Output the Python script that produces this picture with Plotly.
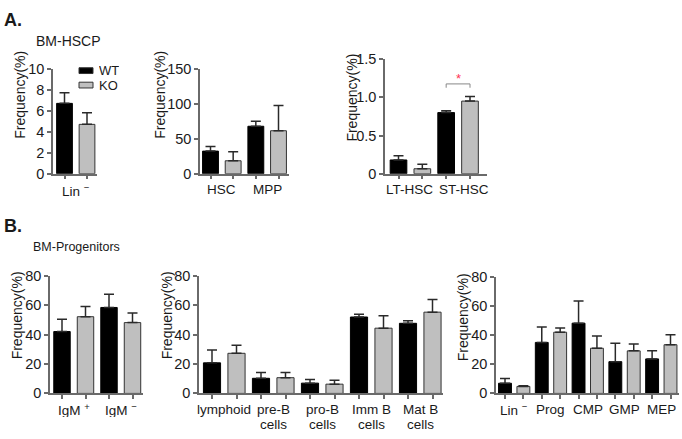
import plotly.graph_objects as go

W, H = 682, 439
FONT = "Arial, Liberation Sans, Helvetica, sans-serif"

# ---------------- data ----------------
a1_labels = ["Lin <sup>−</sup>"]
a1_wt = [6.7]
a1_wt_err = [1.0]
a1_ko = [4.7]
a1_ko_err = [1.1]

a2_labels = ["HSC", "MPP"]
a2_wt = [32.3, 67.8]
a2_wt_err = [6.5, 7.0]
a2_ko = [18.5, 61.4]
a2_ko_err = [12.9, 36.0]

a3_labels = ["LT-HSC", "ST-HSC"]
a3_wt = [0.18, 0.80]
a3_wt_err = [0.055, 0.025]
a3_ko = [0.065, 0.95]
a3_ko_err = [0.06, 0.06]
a3_sig_group = 1  # ST-HSC, p<0.05

b1_labels = ["IgM <sup>+</sup>", "IgM <sup>−</sup>"]
b1_wt = [42.1, 58.5]
b1_wt_err = [8.3, 9.0]
b1_ko = [52.2, 48.2]
b1_ko_err = [7.0, 6.6]

b2_labels = ["lymphoid", "pre-B<br>cells", "pro-B<br>cells", "Imm B<br>cells", "Mat B<br>cells"]
b2_wt = [20.8, 10.3, 7.0, 52.0, 47.7]
b2_wt_err = [8.7, 3.9, 2.4, 1.8, 1.7]
b2_ko = [27.3, 10.7, 6.3, 44.4, 55.3]
b2_ko_err = [5.5, 3.5, 2.7, 8.5, 8.7]

b3_labels = ["Lin <sup>−</sup>", "Prog", "CMP", "GMP", "MEP"]
b3_wt = [7.0, 35.0, 48.2, 21.8, 23.7]
b3_wt_err = [3.3, 10.5, 15.3, 12.7, 5.5]
b3_ko = [4.8, 42.0, 31.0, 29.2, 33.4]
b3_ko_err = [0.5, 2.9, 8.4, 4.7, 6.8]

# ---------------- layout of panels (pixels) ----------------
panels = [
    dict(labels=a1_labels, wt=a1_wt, wte=a1_wt_err, ko=a1_ko, koe=a1_ko_err,
         ax=(53, 97), c=(64.5, 87), yp=(63, 172), yr=[0, 10], yt=[0, 2, 4, 6, 8, 10],
         ytitle=(20, 90), lshift=17),
    dict(labels=a2_labels, wt=a2_wt, wte=a2_wt_err, ko=a2_ko, koe=a2_ko_err,
         ax=(200, 289), c=(210.5, 278.5), yp=(63, 172), yr=[0, 150], yt=[0, 50, 100, 150],
         ytitle=(160, 90), lshift=16),
    dict(labels=a3_labels, wt=a3_wt, wte=a3_wt_err, ko=a3_ko, koe=a3_ko_err,
         ax=(385, 487), c=(398.5, 470), yp=(53, 172), yr=[0, 1.5], yt=[0, 0.5, 1.0, 1.5],
         ytt=["0", "0.5", "1.0", "1.5"], ytitle=(352, 93), lshift=16, lx=[-1, 6]),
    dict(labels=b1_labels, wt=b1_wt, wte=b1_wt_err, ko=b1_ko, koe=b1_ko_err,
         ax=(50, 143), c=(62, 132.5), yp=(278, 400), yr=[0, 80], yt=[0, 20, 40, 60, 80],
         ytitle=(17, 319), lshift=16),
    dict(labels=b2_labels, wt=b2_wt, wte=b2_wt_err, ko=b2_ko, koe=b2_ko_err,
         ax=(199, 443), c=(212, 432.5), yp=(278, 400), yr=[0, 80], yt=[0, 20, 40, 60, 80],
         ytitle=(167, 319), lshift=16),
    dict(labels=b3_labels, wt=b3_wt, wte=b3_wt_err, ko=b3_ko, koe=b3_ko_err,
         ax=(496, 679), c=(505, 670.5), yp=(279, 400), yr=[0, 80], yt=[0, 20, 40, 60, 80],
         ytitle=(463, 321), lshift=16),
]

WT_COLOR = "#000000"
KO_COLOR = "#bfbfbf"
AXIS_COLOR = "#6a6a6a"
TEXT_COLOR = "#1a1a1a"
ERR_COLOR = "#2a2a2a"

fig = go.Figure()
annotations = []
shapes = []
layout = {}

for k, p in enumerate(panels, start=1):
    n_groups = len(p["labels"])
    n_bars = 2 * n_groups
    xwt = [2 * i for i in range(n_groups)]
    xko = [2 * i + 1 for i in range(n_groups)]
    xs = f"x{k}" if k > 1 else "x"
    ys = f"y{k}" if k > 1 else "y"

    fig.add_trace(go.Bar(
        x=xwt, y=p["wt"], width=0.7, xaxis=xs, yaxis=ys, name="WT", showlegend=False,
        marker=dict(color=WT_COLOR, line=dict(color="#000000", width=1)),
        error_y=dict(type="data", symmetric=False, array=p["wte"], arrayminus=[0] * n_groups,
                     color=ERR_COLOR, thickness=1.5, width=5),
    ))
    fig.add_trace(go.Bar(
        x=xko, y=p["ko"], width=0.7, xaxis=xs, yaxis=ys, name="KO", showlegend=False,
        marker=dict(color=KO_COLOR, line=dict(color="#333333", width=1)),
        error_y=dict(type="data", symmetric=False, array=p["koe"], arrayminus=[0] * n_groups,
                     color=ERR_COLOR, thickness=1.5, width=5),
    ))

    c0, c1 = p["c"]
    pitch = (c1 - c0) / (n_bars - 1)
    xl, xr = p["ax"]
    xrange = [(xl - c0) / pitch, (xr - c0) / pitch]
    ytop, ybot = p["yp"]

    xkey = "xaxis" if k == 1 else f"xaxis{k}"
    ykey = "yaxis" if k == 1 else f"yaxis{k}"
    layout[xkey] = dict(
        domain=[xl / W, xr / W], range=xrange, anchor=ys,
        showline=True, linecolor=AXIS_COLOR, linewidth=1.5,
        ticks="outside", ticklen=4, tickwidth=1.5, tickcolor=AXIS_COLOR,
        tickvals=list(range(n_bars)), showticklabels=False,
        showgrid=False, zeroline=False,
    )
    layout[ykey] = dict(
        domain=[1 - ybot / H, 1 - ytop / H], range=p["yr"], anchor=xs,
        showline=True, linecolor=AXIS_COLOR, linewidth=1.5,
        ticks="outside", ticklen=4, tickwidth=1.5, tickcolor=AXIS_COLOR,
        tickvals=p["yt"], ticktext=p.get("ytt", [str(v) for v in p["yt"]]),
        tickfont=dict(size=14.5, color=TEXT_COLOR, family=FONT),
        showgrid=False, zeroline=False,
    )

    # group labels under each pair of bars
    lx = p.get("lx", [0] * n_groups)
    for i, lab in enumerate(p["labels"]):
        for j, line in enumerate(lab.split("<br>")):
            annotations.append(dict(
                text=line, xref=xs, yref=f"{ys} domain", x=2 * i + 0.5, y=0,
                xanchor="center", yanchor="middle", yshift=-p["lshift"] - 15 * j,
                xshift=lx[i], height=15,
                showarrow=False, font=dict(size=13.5, color=TEXT_COLOR, family=FONT),
            ))

    # y-axis title
    tx, ty = p["ytitle"]
    annotations.append(dict(
        text="Frequency(%)", xref="paper", yref="paper", x=tx / W, y=1 - ty / H,
        xanchor="center", yanchor="middle", textangle=-90, showarrow=False,
        font=dict(size=14, color=TEXT_COLOR, family=FONT),
    ))

# significance bracket (ST-HSC)
g = a3_sig_group
top = max(a3_wt[g] + a3_wt_err[g], a3_ko[g] + a3_ko_err[g])
by = top + 0.165
shapes.append(dict(
    type="path", xref="x3", yref="y3",
    path=f"M {2*g},{by-0.05} L {2*g},{by} L {2*g+1},{by} L {2*g+1},{by-0.05}",
    line=dict(color="#888888", width=1),
))
annotations.append(dict(
    text="*", xref="x3", yref="y3", x=2 * g + 0.5, y=by, yanchor="bottom", yshift=-4,
    showarrow=False, font=dict(size=13, color="#ff3355", family=FONT),
))

# legend (WT / KO) in first panel
legend_items = [("WT", WT_COLOR, 65), ("KO", KO_COLOR, 80)]
for name, col, yc in legend_items:
    shapes.append(dict(
        type="rect", xref="paper", yref="paper",
        x0=79 / W, x1=93 / W, y0=1 - (yc + 3) / H, y1=1 - (yc - 3) / H,
        fillcolor=col, line=dict(color="#333333", width=1),
    ))
    annotations.append(dict(
        text=name, xref="paper", yref="paper", x=97 / W, y=1 - yc / H,
        xanchor="left", yanchor="middle", showarrow=False, height=13,
        font=dict(size=13, color=TEXT_COLOR, family=FONT),
    ))

# panel headers
headers = [("<b>A.</b>", 2, 12, 18), ("BM-HSCP", 34, 34, 14),
           ("<b>B.</b>", 2, 226, 18), ("BM-Progenitors", 31, 248, 12.5)]
for txt, hx, hy, hs in headers:
    annotations.append(dict(
        text=txt, xref="paper", yref="paper", x=hx / W, y=1 - hy / H,
        xanchor="left", yanchor="middle", showarrow=False,
        font=dict(size=hs, color=TEXT_COLOR, family=FONT),
    ))

fig.update_layout(
    width=W, height=H, margin=dict(l=0, r=0, t=0, b=0),
    paper_bgcolor="white", plot_bgcolor="white",
    barmode="overlay", showlegend=False,
    font=dict(family=FONT, color=TEXT_COLOR),
    annotations=annotations, shapes=shapes,
    **layout,
)

fig.write_html(
    "out.html",
    config={"displayModeBar": False},
    post_script="document.body.style.margin='0px';document.body.style.overflow='hidden';",
)
